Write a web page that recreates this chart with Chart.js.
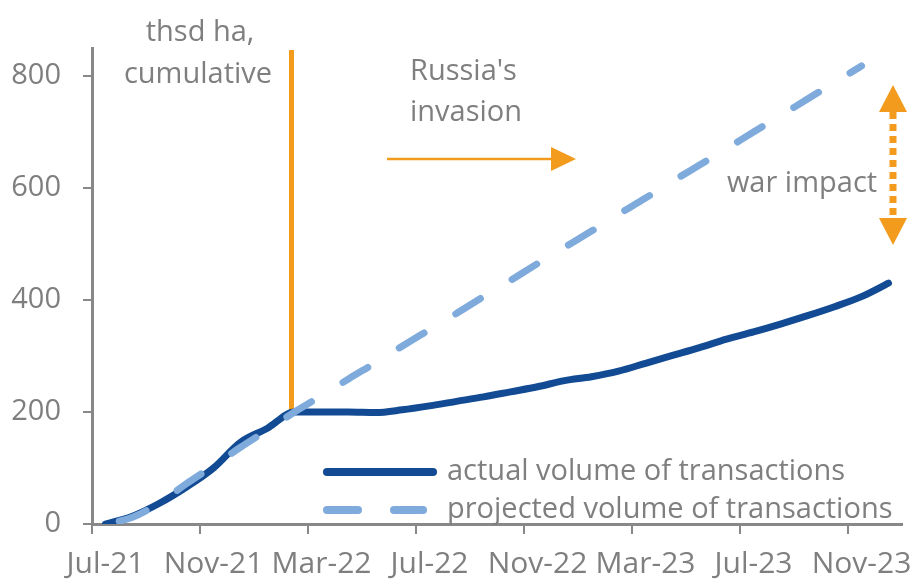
<!DOCTYPE html>
<html>
<head>
<meta charset="utf-8">
<script src="https://cdn.jsdelivr.net/npm/chart.js@4.4.1/dist/chart.umd.min.js"></script>
<style>
  html, body { margin: 0; padding: 0; background: #fff; }
  #wrap { width: 915px; height: 580px; }
</style>
</head>
<body>
<div id="wrap"><canvas id="landChart" width="915" height="580"></canvas></div>
<script>
const months = [
    'Jul-21', 'Aug-21', 'Sep-21', 'Oct-21', 'Nov-21', 'Dec-21',
    'Jan-22', 'Feb-22', 'Mar-22', 'Apr-22', 'May-22', 'Jun-22',
    'Jul-22', 'Aug-22', 'Sep-22', 'Oct-22', 'Nov-22', 'Dec-22',
    'Jan-23', 'Feb-23', 'Mar-23', 'Apr-23', 'May-23', 'Jun-23',
    'Jul-23', 'Aug-23', 'Sep-23', 'Oct-23', 'Nov-23', 'Dec-23'
];

// thsd ha, cumulative
const actualVolume = [
    0, 14, 37, 66, 100, 146, 171, 200, 200, 200, 199, 204,
    211, 219, 227, 236, 245, 256, 263, 273, 287, 301, 315, 330,
    343, 357, 372, 388, 406, 430
];
const projectedVolume = [
    0, 12, 38, 72, 104, 137, 168, 200, 229, 259, 288, 318,
    347, 376, 406, 435, 465, 494, 523, 553, 582, 612, 641, 670,
    700, 729, 759, 788, 818, null
];

const yTicks = [0, 200, 400, 600, 800];
const seriesNames = ['actual volume of transactions', 'projected volume of transactions'];
const invasionMonth = 'Feb-22';

const darkBlue = '#124b93';
const lightBlue = '#7faadc';
const orange = '#f29b1d';
const textGray = '#7f7f7f';
const axisGray = '#888888';
const font = '29px "Open Sans"';

Chart.defaults.font.family = '"Open Sans", "Noto Sans", sans-serif';
Chart.defaults.font.size = 29;

function arrowHead(ctx, tipX, tipY, dx, dy, len, half) {
    // dx, dy: unit direction of the arrow
    ctx.beginPath();
    ctx.moveTo(tipX, tipY);
    ctx.lineTo(tipX - dx * len - dy * half, tipY - dy * len + dx * half);
    ctx.lineTo(tipX - dx * len + dy * half, tipY - dy * len - dx * half);
    ctx.closePath();
    ctx.fill();
}

const annotations = {
    id: 'annotations',
    beforeDatasetsDraw(chart) {
        const {ctx, scales: {x, y}} = chart;
        const xi = x.getPixelForValue(months.indexOf(invasionMonth)) - 3;
        ctx.save();
        ctx.strokeStyle = orange;
        ctx.lineWidth = 5;
        ctx.beginPath();
        ctx.moveTo(xi, y.getPixelForValue(200));
        ctx.lineTo(xi, y.top + 2);
        ctx.stroke();
        ctx.restore();
    },
    afterDatasetsDraw(chart) {
        const {ctx} = chart;
        ctx.save();

        // texts
        ctx.font = font;
        ctx.fillStyle = textGray;
        ctx.textBaseline = 'middle';
        ctx.textAlign = 'center';
        ctx.fillText('thsd ha,', 200, 33);
        ctx.fillText('cumulative', 198, 75);
        ctx.fillText('war impact', 802, 184);
        ctx.textAlign = 'left';
        ctx.fillText("Russia's", 410, 72);
        ctx.fillText('invasion', 410, 113);

        // invasion arrow
        ctx.strokeStyle = orange;
        ctx.fillStyle = orange;
        ctx.lineWidth = 2.5;
        ctx.beginPath();
        ctx.moveTo(387, 159);
        ctx.lineTo(556, 159);
        ctx.stroke();
        arrowHead(ctx, 576, 159, 1, 0, 25, 12);

        // war impact double arrow
        const ax = 893;
        ctx.lineWidth = 7;
        ctx.setLineDash([7, 5]);
        ctx.beginPath();
        ctx.moveTo(ax, 112);
        ctx.lineTo(ax, 218);
        ctx.stroke();
        ctx.setLineDash([]);
        arrowHead(ctx, ax, 85, 0, -1, 27, 14);
        arrowHead(ctx, ax, 245, 0, 1, 27, 14);

        // legend
        ctx.lineCap = 'round';
        ctx.lineWidth = 8;
        ctx.strokeStyle = darkBlue;
        ctx.beginPath();
        ctx.moveTo(327, 472);
        ctx.lineTo(433, 472);
        ctx.stroke();
        ctx.strokeStyle = lightBlue;
        ctx.setLineDash([31, 36]);
        ctx.beginPath();
        ctx.moveTo(327, 510);
        ctx.lineTo(423, 510);
        ctx.stroke();
        ctx.setLineDash([]);
        ctx.fillStyle = textGray;
        ctx.textAlign = 'left';
        ctx.fillText(seriesNames[0], 447, 472);
        ctx.fillText(seriesNames[1], 447, 510);

        ctx.restore();
    }
};

new Chart(document.getElementById('landChart'), {
    type: 'line',
    data: {
        labels: months,
        datasets: [
            {
                label: seriesNames[0],
                data: actualVolume,
                borderColor: darkBlue,
                borderWidth: 7,
                borderCapStyle: 'round',
                borderJoinStyle: 'round',
                pointRadius: 0,
                cubicInterpolationMode: 'monotone',
                order: 1
            },
            {
                label: seriesNames[1],
                data: projectedVolume,
                borderColor: lightBlue,
                borderWidth: 7,
                borderDash: [29, 37],
                borderDashOffset: -14,
                borderCapStyle: 'round',
                pointRadius: 0,
                cubicInterpolationMode: 'monotone',
                spanGaps: false,
                order: 0
            }
        ]
    },
    options: {
        responsive: false,
        animation: false,
        layout: {padding: {top: 48, right: 13, left: 0, bottom: 0}},
        plugins: {
            legend: {display: false},
            tooltip: {enabled: false}
        },
        scales: {
            x: {
                type: 'category',
                offset: true,
                border: {display: true, color: axisGray, width: 3},
                grid: {
                    offset: true,
                    drawOnChartArea: false,
                    drawTicks: true,
                    tickLength: 10,
                    lineWidth: 2,
                    color: (c) => c.index % 4 === 0 ? axisGray : 'rgba(0,0,0,0)'
                },
                ticks: {
                    autoSkip: false,
                    maxRotation: 0,
                    color: textGray,
                    font: {size: 30},
                    padding: 12,
                    callback: function (value, index) {
                        return index % 4 === 0 ? this.getLabelForValue(value) : '';
                    }
                },
                afterFit(scale) { scale.height = 56; }
            },
            y: {
                min: 0,
                max: 850,
                border: {display: true, color: axisGray, width: 3},
                grid: {
                    drawOnChartArea: false,
                    drawTicks: true,
                    tickLength: 9,
                    lineWidth: 2,
                    color: axisGray
                },
                ticks: {
                    color: textGray,
                    padding: 22
                },
                afterBuildTicks(scale) {
                    scale.ticks = yTicks.map(v => ({value: v}));
                },
                afterFit(scale) { scale.width = 92; }
            }
        }
    },
    plugins: [annotations]
});
</script>
</body>
</html>
